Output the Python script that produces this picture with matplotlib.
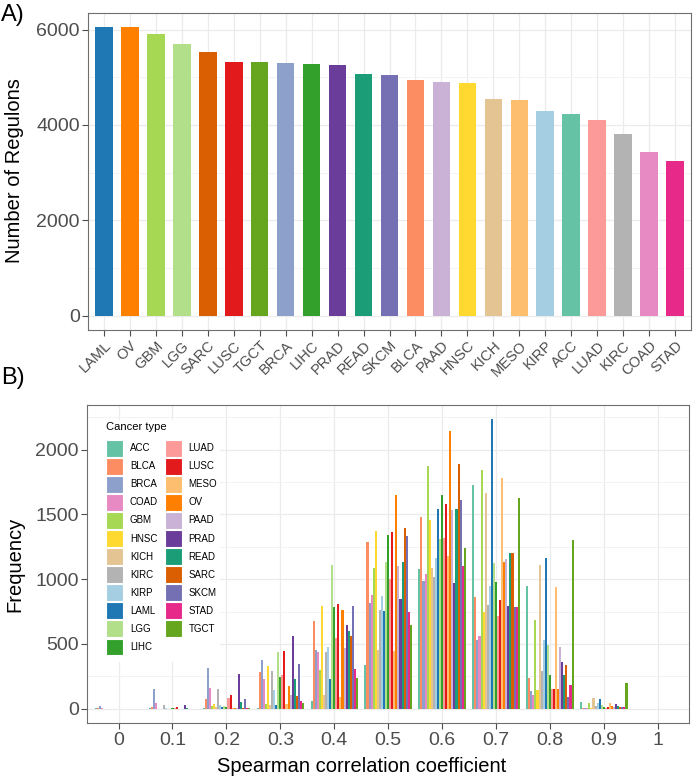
#!/usr/bin/env python3
"""
Two-panel figure: number of regulons per cancer type (A) and the
distribution of Spearman correlation coefficients per cancer type (B).
"""

import numpy as np
import matplotlib
matplotlib.use("Agg")
import matplotlib.pyplot as plt
from matplotlib.patches import Patch, Rectangle

plt.rcParams["font.family"] = ["Liberation Sans", "DejaVu Sans"]

# --- Data ---
# Cancer types in alphabetical order (legend / dodge order)
cancer_types = ["ACC", "BLCA", "BRCA", "COAD", "GBM", "HNSC", "KICH", "KIRC",
                "KIRP", "LAML", "LGG", "LIHC", "LUAD", "LUSC", "MESO", "OV",
                "PAAD", "PRAD", "READ", "SARC", "SKCM", "STAD", "TGCT"]
type_colors = ["#66C2A5", "#FC8D62", "#8DA0CB", "#E78AC3", "#A6D854", "#FFD92F",
               "#E5C494", "#B3B3B3", "#A6CEE3", "#1F78B4", "#B2DF8A", "#33A02C",
               "#FB9A99", "#E31A1C", "#FDBF6F", "#FF7F00", "#CAB2D6", "#6A3D9A",
               "#1B9E77", "#D95F02", "#7570B3", "#E7298A", "#66A61E"]

# Panel A: regulon counts, sorted descending
regulon_types = ["LAML", "OV", "GBM", "LGG", "SARC", "LUSC", "TGCT", "BRCA",
                 "LIHC", "PRAD", "READ", "SKCM", "BLCA", "PAAD", "HNSC", "KICH",
                 "MESO", "KIRP", "ACC", "LUAD", "KIRC", "COAD", "STAD"]
regulon_counts = [6053, 6050, 5900, 5705, 5523, 5328, 5314, 5310, 5272, 5251,
                  5063, 5056, 4937, 4895, 4890, 4540, 4519, 4303, 4240, 4107,
                  3808, 3437, 3236]

# Panel B: histogram counts per bin (values in cancer_types order)
bin_centers = [0.0, 0.1, 0.2, 0.3, 0.4, 0.5, 0.6, 0.7, 0.8, 0.9]
freq_00 = [2, 4, 18, 5, 0, 0, 0, 0, 0, 0, 0, 0, 0, 0, 0, 0, 0, 0, 0, 0, 0, 0, 0]
freq_01 = [2, 12, 150, 46, 0, 0, 0, 28, 2, 0, 0, 2, 8, 10, 0, 0, 0, 32, 3, 0, 0, 0, 0]
freq_02 = [3, 72, 315, 162, 20, 33, 10, 149, 28, 13, 20, 13, 85, 103, 8, 8, 5,
           266, 50, 8, 72, 8, 3]
freq_03 = [5, 282, 374, 226, 33, 328, 26, 292, 142, 30, 437, 244, 260, 446, 40,
           176, 110, 564, 231, 95, 348, 59, 46]
freq_04 = [59, 674, 456, 436, 297, 790, 110, 436, 477, 231, 1110, 785, 546, 805,
           92, 764, 469, 649, 603, 559, 795, 308, 238]
freq_05 = [341, 1290, 815, 879, 1090, 1372, 456, 764, 867, 751, 1131, 1341, 1003,
           1361, 444, 1649, 1105, 849, 1131, 1397, 1333, 746, 649]
freq_06 = [1079, 1482, 985, 1040, 1872, 1456, 1085, 1020, 1161, 1544, 1308, 1649,
           1315, 1579, 1182, 2141, 1533, 974, 1544, 1892, 1610, 1105, 1238]
freq_07 = [1726, 859, 528, 559, 1846, 746, 1667, 803, 950, 2233, 1128, 980, 718,
           841, 1782, 1131, 1154, 795, 1200, 1203, 782, 782, 1623]
freq_08 = [949, 238, 136, 110, 687, 141, 1110, 290, 533, 1162, 490, 259, 149, 149,
           938, 149, 474, 359, 259, 341, 90, 187, 1302]
freq_09 = [54, 8, 8, 8, 46, 8, 85, 20, 41, 77, 26, 13, 5, 13, 41, 20, 15, 33, 20,
           15, 13, 15, 200]
bin_freqs = [freq_00, freq_01, freq_02, freq_03, freq_04,
             freq_05, freq_06, freq_07, freq_08, freq_09]

TICK_GREY = "#4D4D4D"
GRID = "#EBEBEB"
BORDER = "#6E6E6E"
W, H = 693, 779  # figure size in pixels


def style_axes(ax):
    for s in ax.spines.values():
        s.set_color(BORDER)
        s.set_linewidth(0.8)
    ax.tick_params(colors=TICK_GREY, length=4, width=0.8, labelsize=14, pad=2)
    ax.set_axisbelow(True)


fig = plt.figure(figsize=(W / 100, H / 100), dpi=100)

# --- Panel A ---
axA = fig.add_axes([0.1274, 0.5764, 0.8693, 0.4073])
color_of = dict(zip(cancer_types, type_colors))
xa = np.arange(len(regulon_types))
axA.bar(xa, regulon_counts, width=0.68, color=[color_of[t] for t in regulon_types])
ymax = max(regulon_counts)
axA.set_ylim(-0.05 * ymax, 1.05 * ymax)
axA.set_xlim(-0.6, len(regulon_types) - 0.4)
axA.set_yticks([0, 2000, 4000, 6000])
axA.set_yticks([1000, 3000, 5000], minor=True)
axA.tick_params(axis="y", which="minor", length=0)
axA.set_xticks(xa)
axA.set_xticklabels(regulon_types, rotation=45, ha="right",
                    rotation_mode="anchor")
axA.grid(True, which="major", color=GRID, lw=0.9)
axA.grid(True, which="minor", axis="y", color="#F3F3F3", lw=0.7)
style_axes(axA)
axA.tick_params(axis="x", labelsize=10.5)

fig.text(15 / W, 1 - 171 / H, "Number of Regulons", rotation=90,
         ha="center", va="center", fontsize=14.5)
fig.text(0.002, 1 - 15 / H, "A)", ha="left", va="center", fontsize=17)

# --- Panel B ---
axB = fig.add_axes([0.126, 0.0716, 0.8682, 0.4085])
group_w = 0.088
n = len(cancer_types)
bw = group_w / n
for c, freqs in zip(bin_centers, bin_freqs):
    xs = c - group_w / 2 + (np.arange(n) + 0.5) * bw
    axB.bar(xs, freqs, width=bw, color=type_colors, linewidth=0, zorder=1)

fmax = max(max(f) for f in bin_freqs)
axB.set_ylim(-0.05 * fmax, 1.05 * fmax)
axB.set_xlim(-0.058, 1.058)
xt = np.round(np.arange(0, 1.01, 0.1), 1)
axB.set_xticks(xt)
axB.set_xticklabels(["0", "0.1", "0.2", "0.3", "0.4", "0.5", "0.6", "0.7",
                     "0.8", "0.9", "1"])
axB.set_yticks([0, 500, 1000, 1500, 2000])
axB.set_yticks([250, 750, 1250, 1750, 2250], minor=True)
axB.tick_params(axis="y", which="minor", length=0)
axB.grid(True, which="major", color=GRID, lw=0.9)
axB.grid(True, which="minor", axis="y", color="#F3F3F3", lw=0.7)
style_axes(axB)

# white legend background covering the grid (ggplot-style inset legend)
legend_bg = Rectangle((88 / W, 1 - 662 / H), (220 - 88) / W, (662 - 420) / H,
                      transform=fig.transFigure, facecolor="white",
                      edgecolor="none", zorder=0.8)
axB.add_patch(legend_bg)

handles = [Patch(facecolor=col, edgecolor="white", linewidth=0.8, label=t)
           for t, col in zip(cancer_types, type_colors)]
leg = axB.legend(handles=handles, ncol=2, title="Cancer type", loc="upper left",
                 bbox_to_anchor=(106 / W, 1 - 422 / H),
                 bbox_transform=fig.transFigure, fontsize=7, title_fontsize=8,
                 handlelength=1.75, handleheight=2.3, labelspacing=0.12,
                 handletextpad=0.7, columnspacing=0.7, borderpad=0,
                 borderaxespad=0, frameon=False)
leg._legend_box.align = "left"
leg._legend_box.sep = 5.5  # gap between title and keys, in points

fig.text(361.7 / W, 1 - 766 / H, "Spearman correlation coefficient",
         ha="center", va="center", fontsize=14.5)
fig.text(15 / W, 1 - 564 / H, "Frequency", rotation=90,
         ha="center", va="center", fontsize=14.5)
fig.text(0.002, 1 - 378 / H, "B)", ha="left", va="center", fontsize=17)

fig.savefig("out.png", dpi=100)
